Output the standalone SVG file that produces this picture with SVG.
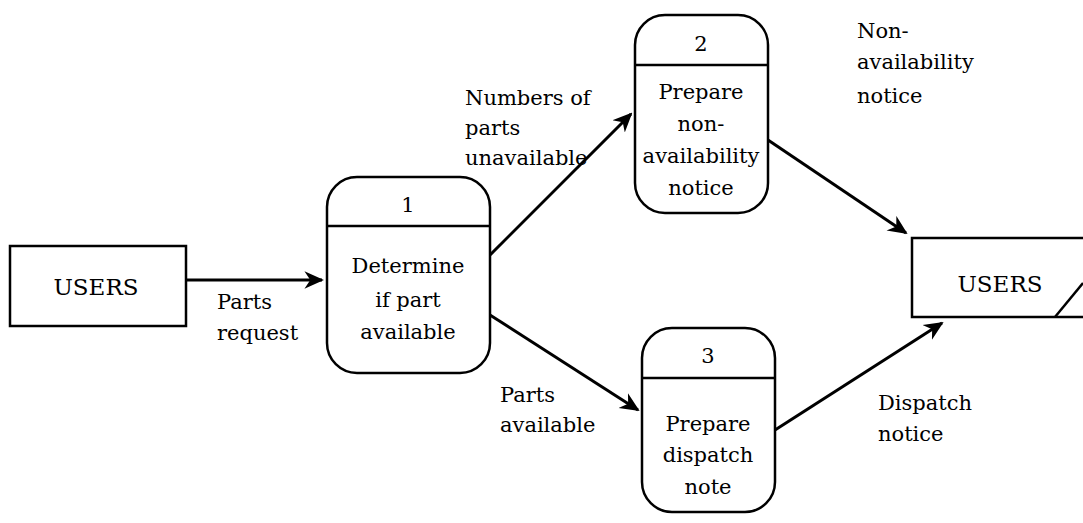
<svg xmlns="http://www.w3.org/2000/svg" width="1083" height="523" viewBox="0 0 1083 523">
<style>
.b{fill:#fff;stroke:#000;stroke-width:2.5}
.l{fill:none;stroke:#000;stroke-width:2.5}
.c{stroke:#000;stroke-width:3;fill:none}
.m{text-anchor:middle}
text{font-family:'DejaVu Serif','Liberation Serif',serif;font-size:21px;fill:#000}
.u{font-size:23px}
</style>
<defs>
<marker id="a" viewBox="0 0 10 10" refX="9" refY="5" markerWidth="6.5" markerHeight="6.5" orient="auto" markerUnits="strokeWidth"><path d="M0,0.5 L10,5 L0,9.5 L3,5 Z" fill="#000"/></marker>
</defs>
<rect width="1083" height="523" fill="#fff"/>
<g id="users-left"><rect class="b" x="10" y="246" width="176" height="80"/><text class="m u" x="96" y="295">USERS</text></g>
<g id="p1"><rect class="b" x="327" y="177" width="163" height="196" rx="30"/><line class="l" x1="327" y1="226" x2="490" y2="226"/><text class="m" x="408" y="212">1</text><text class="m" x="408" y="273">Determine</text><text class="m" x="408" y="307">if part</text><text class="m" x="408" y="339">available</text></g>
<g id="p2"><rect class="b" x="635" y="15" width="133" height="198" rx="30"/><line class="l" x1="635" y1="65" x2="768" y2="65"/><text class="m" x="701" y="51">2</text><text class="m" x="701" y="99">Prepare</text><text class="m" x="701" y="131">non-</text><text class="m" x="701" y="163">availability</text><text class="m" x="701" y="195">notice</text></g>
<g id="p3"><rect class="b" x="642" y="328" width="133" height="184" rx="30"/><line class="l" x1="642" y1="378" x2="775" y2="378"/><text class="m" x="708" y="363">3</text><text class="m" x="708" y="431">Prepare</text><text class="m" x="708" y="462">dispatch</text><text class="m" x="708" y="494">note</text></g>
<g id="users-right"><path class="l" d="M1083,238 H912 V317 H1083"/><line class="l" x1="1055" y1="317" x2="1083" y2="283"/><text class="m u" x="1000" y="292">USERS</text></g>
<g id="connectors">
<line class="c" x1="186" y1="280" x2="322" y2="280" marker-end="url(#a)"/>
<line class="c" x1="490" y1="255" x2="631" y2="114" marker-end="url(#a)"/>
<line class="c" x1="490" y1="315" x2="638" y2="410" marker-end="url(#a)"/>
<line class="c" x1="768" y1="140" x2="906" y2="233" marker-end="url(#a)"/>
<line class="c" x1="775" y1="430" x2="942" y2="323" marker-end="url(#a)"/>
</g>
<g id="labels">
<text x="217" y="309">Parts</text><text x="217" y="340">request</text>
<text x="465" y="105">Numbers of</text><text x="465" y="135">parts</text><text x="465" y="165">unavailable</text>
<text x="500" y="402">Parts</text><text x="500" y="432">available</text>
<text x="857" y="38">Non-</text><text x="857" y="69">availability</text><text x="857" y="103">notice</text>
<text x="878" y="410">Dispatch</text><text x="878" y="441">notice</text>
</g>
</svg>
